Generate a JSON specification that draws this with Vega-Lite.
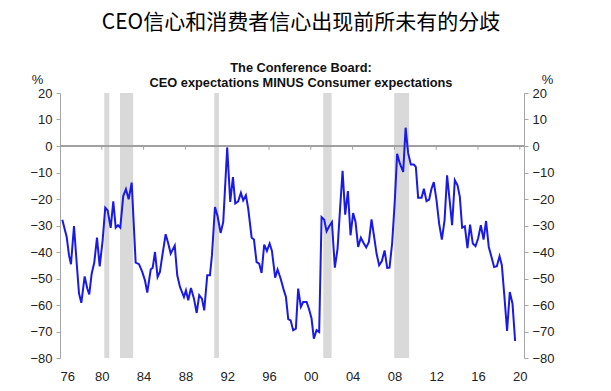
{
  "$schema": "https://vega.github.io/schema/vega-lite/v6.json",
  "width": 464,
  "height": 265,
  "autosize": "none",
  "padding": {"left": 60, "top": 93, "right": 87, "bottom": 33},
  "background": "white",
  "title": {
    "text": "CEO信心和消费者信心出现前所未有的分歧",
    "subtitle": ["The Conference Board:", "CEO expectations MINUS Consumer expectations"],
    "anchor": "middle",
    "dx": 9,
    "font": "Noto Sans CJK SC",
    "fontSize": 21,
    "fontWeight": "normal",
    "color": "#000000",
    "subtitleFont": "Liberation Sans",
    "subtitleFontSize": 12.8,
    "subtitleFontWeight": "bold",
    "subtitleColor": "#111111",
    "subtitleLineHeight": 15.5,
    "subtitlePadding": 29,
    "offset": -17
  },
  "config": {
    "view": {"stroke": null},
    "axis": {"labelFont": "Liberation Sans", "labelFontSize": 13, "labelColor": "#222222", "titleFont": "Liberation Sans", "grid": false}
  },
  "datasets": {
    "main": [
      {"year": 1976.22, "value": -27.8}, {"year": 1976.64, "value": -34.3}, {"year": 1976.86, "value": -41.2}, {"year": 1977.05, "value": -44.6},
      {"year": 1977.34, "value": -30.2}, {"year": 1977.6, "value": -44.4}, {"year": 1977.82, "value": -55.7}, {"year": 1978.04, "value": -59.2},
      {"year": 1978.36, "value": -49.2}, {"year": 1978.61, "value": -53.8}, {"year": 1978.8, "value": -56.0}, {"year": 1979.03, "value": -48.2},
      {"year": 1979.28, "value": -44.0}, {"year": 1979.54, "value": -34.6}, {"year": 1979.8, "value": -45.4}, {"year": 1980.08, "value": -35.6},
      {"year": 1980.33, "value": -23.3}, {"year": 1980.56, "value": -24.3}, {"year": 1980.85, "value": -30.9}, {"year": 1981.1, "value": -20.9},
      {"year": 1981.33, "value": -30.8}, {"year": 1981.55, "value": -29.9}, {"year": 1981.77, "value": -30.8}, {"year": 1982.05, "value": -18.9},
      {"year": 1982.31, "value": -16.3}, {"year": 1982.57, "value": -20.1}, {"year": 1982.86, "value": -13.8}, {"year": 1983.24, "value": -44.0},
      {"year": 1983.56, "value": -44.6}, {"year": 1983.87, "value": -47.5}, {"year": 1984.13, "value": -50.7}, {"year": 1984.35, "value": -55.3},
      {"year": 1984.68, "value": -46.6}, {"year": 1984.87, "value": -45.9}, {"year": 1985.09, "value": -40.0}, {"year": 1985.34, "value": -49.4},
      {"year": 1985.56, "value": -47.5}, {"year": 1985.82, "value": -40.6}, {"year": 1986.11, "value": -33.3}, {"year": 1986.36, "value": -36.8},
      {"year": 1986.59, "value": -40.6}, {"year": 1986.98, "value": -37.6}, {"year": 1987.22, "value": -48.8}, {"year": 1987.48, "value": -53.2},
      {"year": 1987.86, "value": -57.0}, {"year": 1988.05, "value": -54.5}, {"year": 1988.27, "value": -58.2}, {"year": 1988.53, "value": -53.6},
      {"year": 1988.82, "value": -57.6}, {"year": 1989.08, "value": -63.0}, {"year": 1989.32, "value": -56.3}, {"year": 1989.58, "value": -57.6},
      {"year": 1989.8, "value": -62.0}, {"year": 1990.09, "value": -48.8}, {"year": 1990.35, "value": -48.8}, {"year": 1990.54, "value": -41.2},
      {"year": 1990.83, "value": -23.0}, {"year": 1991.08, "value": -26.5}, {"year": 1991.37, "value": -32.8}, {"year": 1991.62, "value": -28.7},
      {"year": 1992.0, "value": -0.6}, {"year": 1992.29, "value": -21.1}, {"year": 1992.55, "value": -11.7}, {"year": 1992.77, "value": -21.7},
      {"year": 1993.05, "value": -20.9}, {"year": 1993.31, "value": -17.7}, {"year": 1993.53, "value": -20.5}, {"year": 1993.79, "value": -18.6},
      {"year": 1994.01, "value": -23.6}, {"year": 1994.34, "value": -34.6}, {"year": 1994.56, "value": -35.3}, {"year": 1994.81, "value": -43.8},
      {"year": 1995.06, "value": -44.4}, {"year": 1995.29, "value": -47.9}, {"year": 1995.54, "value": -37.2}, {"year": 1995.8, "value": -39.6},
      {"year": 1996.06, "value": -36.8}, {"year": 1996.28, "value": -39.6}, {"year": 1996.59, "value": -49.7}, {"year": 1996.82, "value": -46.6},
      {"year": 1997.11, "value": -50.0}, {"year": 1997.4, "value": -54.2}, {"year": 1997.62, "value": -57.0}, {"year": 1997.84, "value": -65.3},
      {"year": 1998.07, "value": -65.8}, {"year": 1998.31, "value": -69.5}, {"year": 1998.57, "value": -68.9}, {"year": 1998.79, "value": -53.8},
      {"year": 1999.05, "value": -60.7}, {"year": 1999.27, "value": -58.9}, {"year": 1999.6, "value": -58.9}, {"year": 1999.82, "value": -61.4},
      {"year": 2000.07, "value": -65.1}, {"year": 2000.29, "value": -72.7}, {"year": 2000.55, "value": -69.5}, {"year": 2000.8, "value": -70.2},
      {"year": 2001.03, "value": -26.8}, {"year": 2001.28, "value": -27.8}, {"year": 2001.51, "value": -32.2}, {"year": 2001.76, "value": -30.3},
      {"year": 2002.02, "value": -28.7}, {"year": 2002.3, "value": -45.9}, {"year": 2002.56, "value": -38.7}, {"year": 2002.81, "value": -23.0},
      {"year": 2003.04, "value": -9.4}, {"year": 2003.29, "value": -25.9}, {"year": 2003.55, "value": -17.0}, {"year": 2003.8, "value": -33.7},
      {"year": 2004.05, "value": -25.3}, {"year": 2004.28, "value": -28.7}, {"year": 2004.53, "value": -38.1}, {"year": 2004.79, "value": -34.6},
      {"year": 2005.05, "value": -36.6}, {"year": 2005.3, "value": -38.3}, {"year": 2005.56, "value": -36.2}, {"year": 2005.81, "value": -27.7},
      {"year": 2006.06, "value": -34.3}, {"year": 2006.29, "value": -40.6}, {"year": 2006.54, "value": -45.0}, {"year": 2006.8, "value": -43.4},
      {"year": 2007.06, "value": -39.4}, {"year": 2007.31, "value": -46.0}, {"year": 2007.53, "value": -45.9}, {"year": 2007.78, "value": -36.8},
      {"year": 2008.04, "value": -20.5}, {"year": 2008.26, "value": -2.9}, {"year": 2008.52, "value": -6.6}, {"year": 2008.84, "value": -9.8},
      {"year": 2009.07, "value": 6.9}, {"year": 2009.31, "value": -2.6}, {"year": 2009.57, "value": -7.0}, {"year": 2009.86, "value": -7.0},
      {"year": 2010.05, "value": -7.9}, {"year": 2010.27, "value": -19.5}, {"year": 2010.6, "value": -19.5}, {"year": 2010.82, "value": -16.1},
      {"year": 2011.07, "value": -20.8}, {"year": 2011.32, "value": -20.2}, {"year": 2011.55, "value": -16.1}, {"year": 2011.77, "value": -13.6},
      {"year": 2012.03, "value": -20.5}, {"year": 2012.28, "value": -29.3}, {"year": 2012.54, "value": -35.3}, {"year": 2012.8, "value": -28.0},
      {"year": 2013.04, "value": -11.1}, {"year": 2013.3, "value": -21.1}, {"year": 2013.52, "value": -29.9}, {"year": 2013.78, "value": -12.9},
      {"year": 2014.04, "value": -14.8}, {"year": 2014.26, "value": -19.2}, {"year": 2014.48, "value": -30.8}, {"year": 2014.74, "value": -30.3},
      {"year": 2014.99, "value": -38.5}, {"year": 2015.24, "value": -29.7}, {"year": 2015.5, "value": -36.8}, {"year": 2015.76, "value": -37.8},
      {"year": 2016.01, "value": -34.9}, {"year": 2016.27, "value": -29.9}, {"year": 2016.53, "value": -35.3}, {"year": 2016.77, "value": -28.3},
      {"year": 2017.03, "value": -38.1}, {"year": 2017.29, "value": -41.9}, {"year": 2017.54, "value": -45.7}, {"year": 2017.8, "value": -45.4},
      {"year": 2018.06, "value": -41.6}, {"year": 2018.28, "value": -45.0}, {"year": 2018.53, "value": -57.0}, {"year": 2018.78, "value": -69.8},
      {"year": 2019.04, "value": -55.1}, {"year": 2019.3, "value": -59.5}, {"year": 2019.55, "value": -73.6}
    ],
    "bands": [
      {"start": 1980.24, "end": 1980.72},
      {"start": 1981.74, "end": 1983.0},
      {"start": 1990.76, "end": 1991.21},
      {"start": 2001.19, "end": 2001.99},
      {"start": 2007.98, "end": 2009.41}
    ],
    "ticks": [
      {"yr": 1980}, {"yr": 1984}, {"yr": 1988}, {"yr": 1992}, {"yr": 1996}, {"yr": 2000},
      {"yr": 2004}, {"yr": 2008}, {"yr": 2012}, {"yr": 2016}, {"yr": 2020}
    ]
  },
  "layer": [
    {
      "data": {"name": "bands"},
      "mark": {"type": "rect", "color": "#d9d9d9"},
      "encoding": {
        "x": {"field": "start", "type": "quantitative", "scale": {"domain": [1976, 2020.4], "nice": false, "zero": false},
              "axis": {"values": [1976, 1980, 1984, 1988, 1992, 1996, 2000, 2004, 2008, 2012, 2016, 2020], "labelExpr": "substring(toString(datum.value), 2, 4)", "ticks": false, "domain": false, "labelPadding": 12, "title": null}},
        "x2": {"field": "end"},
        "y": {"datum": 20, "type": "quantitative", "scale": {"domain": [-80, 20], "nice": false}, "axis": null},
        "y2": {"datum": -80}
      }
    },
    {
      "data": {"name": "ticks"},
      "mark": {"type": "rule", "color": "#a0a0a0", "strokeWidth": 1},
      "encoding": {
        "y": {"datum": 0, "type": "quantitative", "axis": null}
      }
    },
    {
      "data": {"name": "ticks"},
      "mark": {"type": "rule", "color": "#a0a0a0", "strokeWidth": 1},
      "encoding": {
        "x": {"field": "yr", "type": "quantitative"},
        "y": {"datum": 0, "type": "quantitative", "axis": null},
        "y2": {"datum": -1.4}
      }
    },
    {
      "data": {"name": "main"},
      "mark": {"type": "line", "color": "#1a1ae6", "strokeWidth": 2},
      "encoding": {
        "x": {"field": "year", "type": "quantitative"},
        "y": {
          "field": "value", "type": "quantitative",
          "axis": {"orient": "left", "values": [-80, -70, -60, -50, -40, -30, -20, -10, 0, 10, 20], "domainColor": "#a6a6a6", "tickColor": "#a6a6a6", "tickSize": 4, "labelPadding": 4,
                   "title": "%", "titleAngle": 0, "titleX": -23, "titleY": -14, "titleAlign": "center", "titleBaseline": "middle", "titleFontWeight": "normal", "titleFontSize": 13, "titleColor": "#222222"}
        }
      }
    },
    {
      "data": {"name": "main"},
      "mark": {"type": "line", "strokeOpacity": 0},
      "encoding": {
        "x": {"field": "year", "type": "quantitative"},
        "y": {
          "field": "value", "type": "quantitative",
          "axis": {"orient": "right", "values": [-80, -70, -60, -50, -40, -30, -20, -10, 0, 10, 20], "domainColor": "#a6a6a6", "tickColor": "#a6a6a6", "tickSize": 4, "labelPadding": 4,
                   "title": "%", "titleAngle": 0, "titleX": 23, "titleY": -14, "titleAlign": "center", "titleBaseline": "middle", "titleFontWeight": "normal", "titleFontSize": 13, "titleColor": "#222222"}
        }
      }
    }
  ],
  "resolve": {"axis": {"y": "independent"}}
}
